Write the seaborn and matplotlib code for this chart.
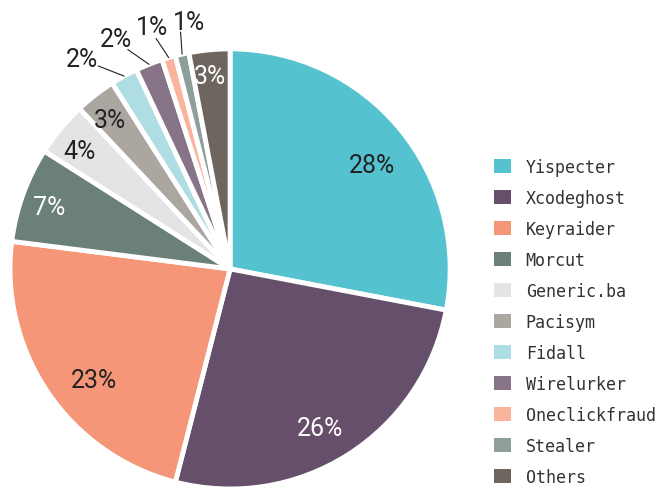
import numpy as np
import seaborn as sns
import matplotlib.pyplot as plt
from matplotlib.patches import Patch

# Data
families = ['Yispecter', 'Xcodeghost', 'Keyraider', 'Morcut', 'Generic.ba',
            'Pacisym', 'Fidall', 'Wirelurker', 'Oneclickfraud', 'Stealer', 'Others']
shares = [28, 26, 23, 7, 4, 3, 2, 2, 1, 1, 3]
colors = ['#54C3CF', '#654F6A', '#F49677', '#6A8079', '#E4E4E6',
          '#ABA7A0', '#AEDEE3', '#877488', '#FAB39C', '#8E9E9A', '#6E665E']
label_colors = ['#222222', 'white', '#222222', 'white', '#222222',
                '#222222', '#222222', '#222222', '#222222', '#222222', 'white']
outside = [False, False, False, False, False, False, True, True, True, True, False]
# label placement tweaks: radius and angle offsets (degrees)
label_r = [0.80, 0.83, 0.80, 0.87, 0.87, 0.87, 1.167, 1.166, 1.157, 1.14, 0.88]
line_shift = [0, 0, 0, 0, 0, 0, 4.2, 3.4, 1.6, -0.8, 0]
text_shift = [-3.5, -3.0, 5.0, 0.8, 1.4, 1.0, 6.3, 4.7, 1.7, -3.1, 0.6]

sns.set_theme(style='white')
palette = sns.color_palette(colors)

fig = plt.figure(figsize=(6.7, 4.89), dpi=100)
ax = fig.add_axes([0.0149, -0.002, 0.657, 0.9])

wedges, _ = ax.pie(shares, colors=palette, startangle=90, counterclock=False,
                   radius=1.0, wedgeprops=dict(edgecolor='white', linewidth=3.5))
ax.set_xlim(-1, 1)
ax.set_ylim(-1, 1)
ax.set_aspect('equal')
ax.axis('off')

pct_font = dict(family=['Roboto', 'DejaVu Sans'], fontsize=18)
total = sum(shares)
for i, (w, val, lc, out) in enumerate(zip(wedges, shares, label_colors, outside)):
    mid = np.deg2rad((w.theta1 + w.theta2) / 2)
    txt = f'{round(100 * val / total)}%'
    a3 = mid + np.deg2rad(text_shift[i])
    if out:
        a2 = mid + np.deg2rad(line_shift[i])
        ax.plot([1.0 * np.cos(mid), 1.1 * np.cos(a2)],
                [1.0 * np.sin(mid), 1.1 * np.sin(a2)],
                color='#222222', lw=0.8, clip_on=False)
    ax.text(label_r[i] * np.cos(a3), label_r[i] * np.sin(a3), txt,
            ha='center', va='center', color=lc, clip_on=False, **pct_font)

handles = [Patch(facecolor=c, edgecolor='none') for c in palette]
fig.legend(handles, families, loc='center left', bbox_to_anchor=(0.715, 0.34),
           frameon=False, prop={'family': 'DejaVu Sans Mono', 'size': 12},
           handlelength=1.0, handleheight=1.0, handletextpad=0.9,
           labelspacing=0.78, labelcolor='#333333')

fig.savefig('out.png', dpi=100)
